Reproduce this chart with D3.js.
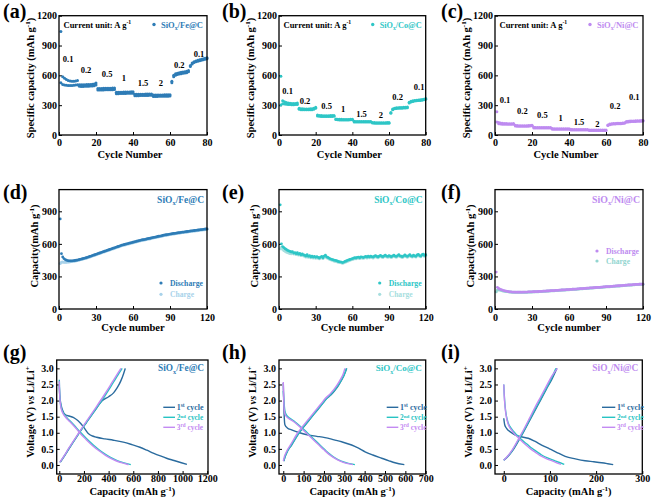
<!DOCTYPE html>
<html><head><meta charset="utf-8">
<script src="https://cdn.jsdelivr.net/npm/d3@7"></script>
<style>body{margin:0;background:#fff}svg{display:block}svg text{font-family:"Liberation Serif","Times New Roman",serif;font-weight:bold}</style>
</head><body><svg id="c" width="658" height="503"></svg>
<script>
// ---------------- DATA ----------------
const rateCurrents = ["0.1","0.2","0.5","1","1.5","2","0.2","0.1"];
const rateXTicks = [0,20,40,60,80];
const rateYTicks = [0,300,600,900,1200];
const cycXTicks = [0,30,60,90,120];
const cycYTicks = [0,300,600,900];
const volYTicks = [0,0.5,1,1.5,2,2.5,3];
const feCapTicks = [0,200,400,600,800,1000,1200];
const coCapTicks = [0,100,200,300,400,500,600,700];
const niCapTicks = [0,100,200,300];

const feRateDis = [1040,585,570,558,548,542,540,540,543,548, 505,505,506,506,507,508,509,511,514,522, 468,468,468,469,469,470,470,471,472,474, 430,430,431,431,432,432,433,433,434,435, 410,410,410,411,411,411,412,412,412,413, 402,402,402,403,403,403,404,404,405,406, 540,600,615,622,627,630,633,636,640,650, 700,725,738,745,752,758,763,768,772,778];
const feRateChg = [526,508,503,500,499,498,499,500,502,505, 490,489,489,490,490,491,492,493,496,502, 452,452,453,453,454,454,455,455,456,458, 416,416,417,417,418,418,419,419,420,421, 396,396,396,397,397,397,398,398,399,400, 388,388,388,389,389,389,390,390,391,392, 525,585,600,608,613,617,620,623,627,635, 690,715,728,736,742,748,753,758,762,768];
const coRateDis = [590,345,335,328,323,320,318,317,318,322, 270,265,263,262,262,262,263,264,268,280, 200,197,195,194,194,194,194,195,195,197, 162,159,158,158,157,157,157,157,158,158, 138,137,136,136,135,135,135,135,135,136, 126,125,124,124,124,124,124,124,125,125, 226,262,270,273,275,276,277,278,279,281, 330,340,345,348,350,352,354,356,360,368];
const coRateChg = [302,315,312,310,308,306,305,305,306,308, 258,255,254,253,253,253,254,255,258,268, 190,188,187,186,186,186,186,187,187,188, 155,153,152,152,152,152,152,152,153,153, 132,131,130,130,130,130,130,130,130,131, 120,119,118,118,118,118,118,118,119,119, 218,255,263,266,268,269,270,271,272,274, 322,333,338,341,344,346,348,350,354,360];
const niRateDis = [235,125,120,118,116,115,114,114,114,115, 97,95,94,94,94,94,94,95,96,98, 78,76,75,75,75,75,75,75,76,76, 65,64,63,63,63,63,63,63,63,64, 57,56,55,55,55,55,55,55,55,56, 51,50,50,50,50,50,50,50,50,51, 100,110,113,115,116,117,118,119,120,122, 135,138,140,141,142,143,143,144,145,146];
const niRateChg = [130,112,110,109,108,108,108,108,108,109, 90,89,88,88,88,88,89,89,90,92, 71,70,70,70,70,70,70,70,70,71, 59,58,58,58,58,58,58,58,58,59, 51,50,50,50,50,50,50,50,50,51, 46,45,45,45,45,45,45,45,45,46, 95,104,108,110,111,112,113,114,115,117, 129,132,134,135,136,137,138,138,139,140];

const feCycDis = [830,510,480,465,455,450,446,444,443,443, 444,445,447,449,451,454,457,460,463,466, 469,472,476,480,484,488,492,496,500,504, 508,512,516,520,524,528,532,536,540,544, 548,552,556,560,564,568,572,576,580,584, 588,591,594,597,600,603,606,609,612,615, 618,621,624,627,630,633,636,638,640,642, 645,648,650,652,655,658,660,662,665,668, 670,672,674,677,680,682,684,686,688,690, 692,694,696,697,699,701,703,704,706,708, 709,711,712,714,716,717,719,720,722,723, 725,726,728,729,731,732,734,735,737,738];
const feCycChg = [420,430,432,430,430,431,432,434,436,438, 439,441,443,445,447,450,453,456,459,462, 465,468,472,476,480,484,488,492,496,500, 504,508,512,516,520,524,528,532,536,540, 544,548,552,556,560,564,568,572,576,580, 584,587,590,593,596,599,602,605,608,611, 614,617,620,623,626,629,632,634,636,638, 641,644,646,648,651,654,656,658,661,664, 666,668,670,673,676,678,680,682,684,686, 688,690,692,693,695,697,699,700,702,704, 705,707,708,710,712,713,715,716,718,719, 721,722,724,725,727,728,730,731,733,734];
const coCycDis = [960,600,575,565,555,548,540,535,530,525, 528,515,520,510,518,505,512,500,508,498, 495,488,500,485,492,480,488,478,485,476, 482,475,470,478,485,472,488,495,480,475, 468,462,458,455,450,448,445,440,436,434, 432,428,432,438,442,448,452,456,460,464, 468,472,470,476,478,472,480,478,474,480, 484,478,486,480,488,482,478,486,492,484, 480,488,494,486,482,490,496,488,484,492, 486,482,490,496,488,484,492,500,490,486, 482,490,498,490,484,492,500,490,486,496, 490,486,498,504,492,488,500,506,494,500];
const coCycChg = [555,570,550,540,532,526,520,516,512,508, 518,507,510,502,508,497,503,492,499,490, 487,480,491,477,484,472,480,470,477,468, 474,468,462,470,477,465,480,487,472,468, 461,455,451,448,443,441,438,433,430,428, 426,422,425,431,435,441,445,449,453,457, 461,465,463,469,471,465,473,471,467,473, 477,471,479,473,481,475,471,479,485,477, 473,481,487,479,475,483,489,481,477,485, 479,475,483,489,481,477,485,493,483,479, 475,483,491,483,477,485,493,483,479,489, 483,479,491,497,485,481,493,499,487,493];
const niCycDis = [340,200,190,183,178,174,170,167,165,163, 160,158,157,156,156,155,155,155,155,155, 155,155,155,156,156,156,157,157,158,158, 159,159,160,160,161,162,162,163,164,164, 165,166,166,167,168,169,169,170,171,172, 172,173,174,175,175,176,177,178,179,179, 180,181,182,183,183,184,185,186,187,188, 188,189,190,191,192,193,194,194,195,196, 197,198,199,200,200,201,202,203,204,205, 206,207,207,208,209,210,211,212,213,214, 214,215,216,217,218,219,220,221,221,222, 223,224,225,226,226,227,228,229,229,230];
const niCycChg = [160,175,178,176,172,169,166,164,162,161, 158,157,156,155,155,154,154,154,154,154, 154,154,154,155,155,155,156,156,157,157, 158,158,159,159,160,161,161,162,163,163, 164,165,165,166,167,168,168,169,170,171, 171,172,173,174,174,175,176,177,178,178, 179,180,181,182,182,183,184,185,186,187, 187,188,189,190,191,192,193,193,194,195, 196,197,198,199,199,200,201,202,203,204, 205,206,206,207,208,209,210,211,212,213, 213,214,215,216,217,218,219,220,220,221, 222,223,224,225,225,226,227,228,228,229];

// voltage profiles [capacity mAh/g, voltage V]
const feV1dis = [[0,2.45],[3,2.2],[10,1.95],[25,1.72],[50,1.56],[80,1.52],[113,1.48],[150,1.38],[195,1.19],[235,0.98],[270,0.9],[303,0.86],[370,0.81],[438,0.77],[519,0.71],[590,0.63],[654,0.55],[710,0.46],[762,0.37],[820,0.28],[870,0.21],[930,0.14],[990,0.07],[1035,0.02]];
const feV1chg = [[10,0.1],[40,0.27],[90,0.57],[150,0.93],[220,1.32],[290,1.7],[350,2.0],[400,2.12],[440,2.24],[470,2.4],[500,2.62],[520,2.82],[535,3.0]];
const feV2dis = [[0,2.65],[2,2.35],[6,2.05],[15,1.8],[30,1.64],[50,1.52],[70,1.43],[100,1.32],[135,1.17],[168,1.03],[220,0.82],[276,0.62],[330,0.45],[384,0.31],[440,0.19],[492,0.1],[540,0.05],[580,0.01]];
const feV2chg = [[5,0.08],[30,0.22],[80,0.52],[150,0.93],[220,1.32],[300,1.76],[370,2.15],[420,2.45],[460,2.7],[490,2.88],[510,3.0]];
const feV3dis = [[0,2.6],[2,2.3],[6,2.0],[15,1.76],[30,1.6],[50,1.49],[70,1.4],[100,1.29],[135,1.14],[165,1.0],[215,0.8],[270,0.6],[322,0.44],[375,0.3],[430,0.18],[480,0.1],[525,0.05],[562,0.01]];
const feV3chg = [[3,0.08],[28,0.22],[77,0.52],[146,0.93],[214,1.32],[292,1.76],[360,2.15],[410,2.45],[450,2.7],[480,2.88],[500,3.0]];
const coV1dis = [[0,2.55],[2,2.0],[4,1.6],[8,1.25],[20,1.15],[41,1.09],[80,1.0],[123,0.93],[165,0.89],[205,0.85],[250,0.78],[287,0.72],[336,0.62],[370,0.52],[402,0.41],[440,0.31],[484,0.21],[520,0.13],[549,0.07],[595,0.01]];
const coV1chg = [[3,0.12],[8,0.24],[20,0.42],[41,0.62],[74,0.96],[100,1.18],[123,1.36],[150,1.57],[172,1.74],[195,1.92],[213,2.06],[235,2.18],[254,2.32],[270,2.46],[287,2.64],[300,2.8],[312,3.0]];
const coV2dis = [[0,2.3],[3,2.0],[8,1.68],[16,1.55],[35,1.44],[57,1.34],[80,1.22],[107,1.07],[130,0.92],[156,0.77],[180,0.62],[205,0.47],[230,0.33],[254,0.22],[285,0.12],[320,0.05],[352,0.01]];
const coV2chg = [[2,0.12],[8,0.25],[20,0.42],[41,0.63],[74,0.97],[100,1.19],[123,1.37],[150,1.58],[172,1.75],[195,1.93],[213,2.07],[235,2.2],[254,2.34],[270,2.48],[287,2.66],[300,2.82],[310,3.0]];
const coV3dis = [[0,2.58],[2,2.1],[4,1.75],[10,1.55],[25,1.45],[50,1.35],[75,1.22],[100,1.07],[125,0.92],[150,0.77],[175,0.62],[200,0.47],[225,0.33],[250,0.22],[280,0.12],[312,0.05],[342,0.01]];
const coV3chg = [[0,0.12],[5,0.25],[16,0.42],[36,0.63],[68,0.97],[94,1.19],[117,1.37],[144,1.58],[166,1.75],[189,1.93],[207,2.07],[229,2.2],[248,2.34],[264,2.48],[281,2.66],[294,2.82],[303,3.0]];
const niV1dis = [[0,1.45],[2,1.25],[6,1.14],[15,1.02],[25,0.93],[40,0.87],[53,0.83],[68,0.73],[82,0.62],[95,0.53],[104,0.47],[118,0.37],[133,0.27],[155,0.19],[176,0.13],[195,0.1],[212,0.07],[225,0.04],[237,0.01]];
const niV1chg = [[0,0.15],[8,0.25],[18,0.42],[30,0.7],[42,1.0],[55,1.35],[68,1.7],[80,2.02],[92,2.35],[104,2.66],[115,3.0]];
const niV2dis = [[0,2.5],[1,2.2],[3,1.81],[6,1.5],[10,1.29],[17,1.12],[25,0.98],[32,0.88],[39,0.78],[50,0.65],[61,0.52],[72,0.41],[82,0.31],[96,0.21],[111,0.13],[122,0.07],[131,0.02]];
const niV2chg = [[0,0.15],[8,0.26],[18,0.44],[30,0.73],[42,1.03],[55,1.38],[68,1.74],[80,2.06],[92,2.38],[103,2.68],[113,3.0]];
const niV3dis = [[0,2.5],[1,2.15],[3,1.77],[6,1.46],[10,1.25],[17,1.08],[24,0.95],[31,0.85],[38,0.75],[48,0.62],[58,0.5],[68,0.4],[78,0.3],[92,0.2],[106,0.12],[116,0.06],[124,0.02]];
const niV3chg = [[0,0.15],[8,0.27],[18,0.46],[30,0.76],[42,1.07],[55,1.43],[68,1.8],[80,2.12],[92,2.44],[104,2.76],[116,3.0]];

// ---------------- LAYOUT / STYLE ----------------
const FONT = '"Liberation Serif","Times New Roman",serif';
const C = {fe:"#2E7CB6", co:"#2EC6C6", ni:"#BE8BF0",
  feChg:"#A8D2EA", coChg:"#A6DEDE", niChg:"#92D5D0",
  v1:"#2A6B9E", v2:"#27C3C3", v3:"#C38AF2"};
// rate-label anchors in data units (cycle, capacity)
const rateNoteAnchors = {
  fe:[[4.9,765],[14.6,654],[26,614],[35,573],[45.4,523],[55,523],[65,704],[75.7,815]],
  co:[[4.7,446],[14.2,342],[26,292],[35,262],[45,211],[55.5,201],[64.7,385],[76.4,480]],
  ni:[[5.4,352],[14.8,241],[25.6,201],[35.5,168],[45.4,131],[55.3,111],[64.9,292],[75.3,385]]
};
const svg = d3.select("#c");
const root = svg.append("g").attr("font-family",FONT).attr("font-weight","bold");

function rich(sel, parts, size){
  let shift = 0;
  parts.forEach(([s,m])=>{
    const t = sel.append("tspan").text(s);
    const target = m==="sup" ? -0.38*size : m==="sub" ? 0.28*size : 0;
    t.attr("dy", target-shift); shift = target;
    if(m==="sup"||m==="sub") t.attr("font-size", size*0.68);
    if(m==="it") t.attr("font-style","italic");
  });
  return sel;
}
function text(x,y,size,fill,anchor){
  return root.append("text").attr("x",x).attr("y",y).attr("font-size",size).attr("fill",fill||"#000").attr("text-anchor",anchor||"start");
}
// rich text whose font size is adjusted so its rendered width matches the reference width
function richFit(x,y,size,fill,anchor,parts,targetW){
  let t = rich(text(x,y,size,fill,anchor), parts, size);
  const w = t.node().getComputedTextLength();
  if (w > 0 && Math.abs(w/targetW - 1) > 0.03) {
    const s2 = size*targetW/w;
    t.remove();
    t = rich(text(x,y,s2,fill,anchor), parts, s2);
  }
  return t;
}
const sample = n => [["SiO"],["x","sub"],["/"+n+"@C"]];

function panel(o){
  const x = d3.scaleLinear().domain(o.xd).range([o.x0,o.x1]);
  const y = d3.scaleLinear().domain(o.yd).range([o.y1,o.y0]);
  const g = root.append("g");
  const ax = g.append("g").attr("transform",`translate(0,${o.y1})`)
    .call(d3.axisBottom(x).tickValues(o.xt).tickFormat(d3.format("d")).tickSizeInner(-3).tickSizeOuter(0).tickPadding(o.xp));
  const ay = g.append("g").attr("transform",`translate(${o.x0},0)`)
    .call(d3.axisLeft(y).tickValues(o.yt).tickFormat(o.yf||d3.format("d")).tickSizeInner(-3).tickSizeOuter(0).tickPadding(o.yp));
  [ax,ay].forEach(a=>{a.attr("font-family",null).attr("font-size",10);
    a.select(".domain").remove(); a.selectAll("line").attr("stroke","#000").attr("stroke-width",1);
    a.selectAll("text").attr("fill","#000");});
  const data = g.append("g");
  g.append("rect").attr("x",o.x0).attr("y",o.y0).attr("width",o.x1-o.x0).attr("height",o.y1-o.y0)
    .attr("fill","none").attr("stroke","#000").attr("stroke-width",1.3);
  rich(text(o.xtx ?? (o.x0+o.x1)/2, o.xty, 10.5, "#000","middle"), o.xtitle, 10.5);
  rich(root.append("text").attr("transform",`translate(${o.ytx},${o.yty}) rotate(-90)`)
    .attr("text-anchor","middle").attr("font-size",10.5).attr("fill","#000"), o.ytitle, 10.5);
  text(o.lx, o.ly, 20, "#000").text(o.letter);
  return {x,y,data};
}

const colsTop = [[59,207],[279,425.7],[495,643]];
const colsBot = [[56.7,208,[-21,1206]],[279,425.7,[-21,700]],[495,642.3,[-19,300]]];
const letterX = [3,222,441];
const mats = [
  {k:"fe", n:"Fe", rd:feRateDis, rc:feRateChg, cd:feCycDis, cc:feCycChg, v:[[feV1dis,feV1chg],[feV2dis,feV2chg],[feV3dis,feV3chg]], capT:feCapTicks},
  {k:"co", n:"Co", rd:coRateDis, rc:coRateChg, cd:coCycDis, cc:coCycChg, v:[[coV1dis,coV1chg],[coV2dis,coV2chg],[coV3dis,coV3chg]], capT:coCapTicks},
  {k:"ni", n:"Ni", rd:niRateDis, rc:niRateChg, cd:niCycDis, cc:niCycChg, v:[[niV1dis,niV1chg],[niV2dis,niV2chg],[niV3dis,niV3chg]], capT:niCapTicks}
];
const capTitle = [["Capacity (mAh g"],["-1","sup"],[")"]];
const cycLegendY = [[283,294.3],[283,294.3],[251,261]];
const volLegend = [[44.7,33,31.3],[39,27.4,25.7],[40.3,27,25.3]];

mats.forEach((m,i)=>{
  const col = m.k;
  // ---- Row 1: rate capability ----
  const [x0,x1] = colsTop[i];
  const p1 = panel({x0,x1,y0:15.7,y1:135,xd:[0,80],yd:[0,1200],xt:rateXTicks,yt:rateYTicks,xp:4,yp:2,
    xtitle:[["Cycle Number"]], xtx:(x0+x1)/2-3, xty:157.5,
    ytitle:[["Specific capacity (mAh g"],["-1","sup"],[")"]], ytx:x0-25.5, yty:78,
    letter:"("+"abc"[i]+")", lx:letterX[i], ly:18});
  const cyc80 = d3.range(1, m.rd.length+1);
  p1.data.selectAll(".c").data(cyc80).join("circle").attr("cx",d=>p1.x(d)).attr("cy",d=>p1.y(m.rc[d-1])).attr("r",1.5).attr("fill",C[col]);
  p1.data.selectAll(".d").data(cyc80).join("circle").attr("cx",d=>p1.x(d)).attr("cy",d=>p1.y(m.rd[d-1])).attr("r",1.5).attr("fill",C[col]);
  rateNoteAnchors[col].forEach((a,j)=>{
    text(p1.x(a[0]), p1.y(a[1])+3, 8.5, "#000","middle").text(rateCurrents[j]);
  });
  richFit(x0+4.5, 27.5, 8.5, "#000", "start", [["Current unit: A g"],["-1","sup"]], 67.5);
  root.append("circle").attr("cx",x1-53).attr("cy",24.5).attr("r",1.7).attr("fill",C[col]);
  richFit(x1-46, 27.5, 8.5, C[col], "start", sample(m.n), 42);

  // ---- Row 2: cycling ----
  const p2 = panel({x0,x1,y0:189.6,y1:309,xd:[0,120],yd:[0,1100],xt:cycXTicks,yt:cycYTicks,xp:5,yp:2,
    xtitle:[["Cycle number"]], xty:331,
    ytitle:[["Capacity(mAh g"],["-1","sup"],[")"]], ytx:x0-21, yty:246,
    letter:"("+"def"[i]+")", lx:letterX[i], ly:199});
  const cyc120 = d3.range(1, m.cd.length+1);
  p2.data.selectAll(".c").data(cyc120).join("circle").attr("cx",d=>p2.x(d)).attr("cy",d=>p2.y(m.cc[d-1])).attr("r",1.5).attr("fill",C[col+"Chg"]);
  p2.data.selectAll(".d").data(cyc120).join("circle").attr("cx",d=>p2.x(d)).attr("cy",d=>p2.y(m.cd[d-1])).attr("r",1.4).attr("fill",C[col]);
  richFit(x1-3, 202.5, 9.5, C[col], "end", sample(m.n), 48);
  const ly = cycLegendY[i];
  root.append("circle").attr("cx",x1-46).attr("cy",ly[0]).attr("r",1.6).attr("fill",C[col]);
  richFit(x1-37, ly[0]+3, 8, C[col], "start", [["Discharge"]], 33);
  root.append("circle").attr("cx",x1-46).attr("cy",ly[1]).attr("r",1.6).attr("fill",C[col+"Chg"]);
  richFit(x1-37, ly[1]+3, 8, C[col+"Chg"], "start", [["Charge"]], 24);

  // ---- Row 3: voltage profiles ----
  const [bx0,bx1,bxd] = colsBot[i];
  const p3 = panel({x0:bx0,x1:bx1,y0:360,y1:474,xd:bxd,yd:[-0.28,3.26],xt:m.capT,yt:volYTicks,yf:d3.format(".1f"),xp:1,yp:3,
    xtitle:capTitle, xty:495,
    ytitle:[["Voltage (V) "],["vs","it"],[" Li/Li"],["+","sup"]], ytx:bx0-23, yty:412,
    letter:"("+"ghi"[i]+")", lx:letterX[i], ly:359});
  const line = d3.line().x(d=>p3.x(d[0])).y(d=>p3.y(d[1])).curve(d3.curveMonotoneX);
  const vc = [C.v1,C.v2,C.v3];
  m.v.forEach((pair,j)=>{
    pair.forEach(s=>p3.data.append("path").attr("d",line(s)).attr("fill","none").attr("stroke",vc[j]).attr("stroke-width",1.4));
  });
  richFit(bx1-4, 371, 9, C[col], "end", sample(m.n), 46);
  const L = volLegend[i];
  const ordinals = [["1","st"],["2","nd"],["3","rd"]];
  [407.3,417.3,427.3].forEach((yy,j)=>{
    root.append("line").attr("x1",bx1-L[0]).attr("x2",bx1-L[1]).attr("y1",yy).attr("y2",yy).attr("stroke",vc[j]).attr("stroke-width",1.4);
    richFit(bx1-L[2], yy+3, 8, vc[j], "start", [[ordinals[j][0]],[ordinals[j][1],"sup"],[" cycle"]], 26.5);
  });
});
</script></body></html>
